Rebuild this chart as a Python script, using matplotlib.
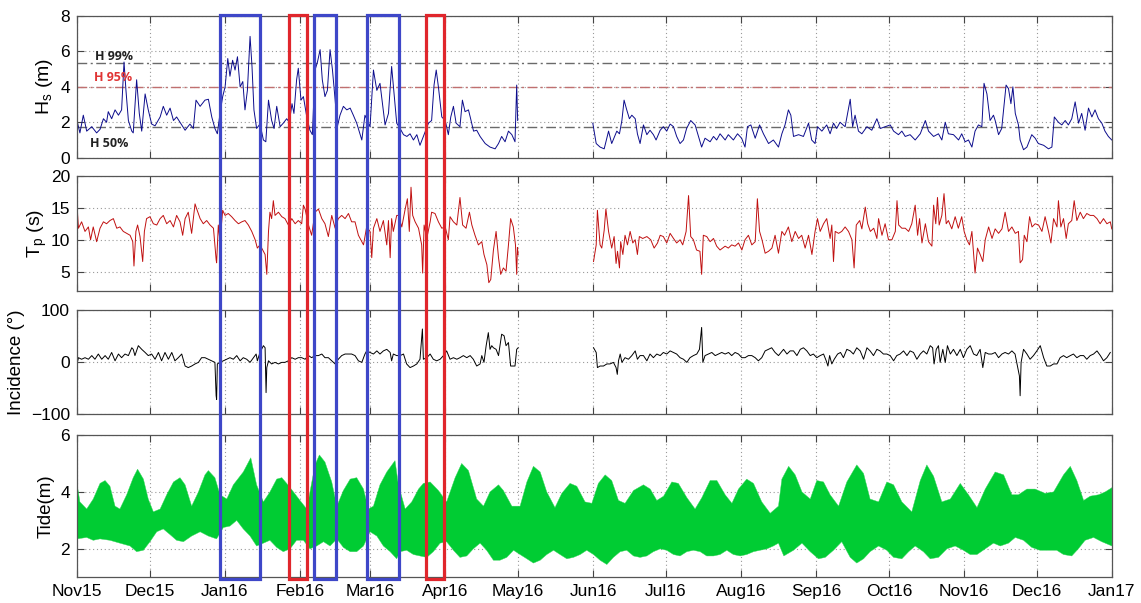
import numpy as np
import matplotlib
matplotlib.use("Agg")
import matplotlib.pyplot as plt
import matplotlib.dates as mdates
from matplotlib.patches import Rectangle
from matplotlib.transforms import blended_transform_factory

plt.rcParams['font.family'] = ['Liberation Sans', 'DejaVu Sans']
plt.rcParams['mathtext.fontset'] = 'custom'
plt.rcParams['mathtext.rm'] = 'Liberation Sans'

nan = np.nan
START = np.datetime64('2015-11-01T00:00')
END = np.datetime64('2017-01-01T00:00')

# ---------------- data (days since 2015-11-01) ----------------
HS_DAY = [0, 1.2, 2.6, 4.0, 6.1, 8.1, 9.5, 10.9, 12.2, 12.9, 14.3, 15.7, 17.1, 18.4, 19.4, 20.2, 21.2, 22.6, 23.2, 24.6,
          25.7, 26.7, 28.1, 29.4, 30.8, 32.2, 34.3, 35.6, 37.0, 38.4, 39.8, 41.1, 43.2, 44.6, 46.6, 48.0, 49.1, 50.8,
          52.8, 54.2, 55.6, 56.9, 57.9, 59.0, 60.1, 61.1, 62.2, 63.1, 64.2, 65.2, 66.2, 67.3, 68.4, 69.3, 70.3, 71.4,
          72.2, 73.0, 74.1, 75.5, 76.9, 77.9, 79.0, 80.3, 81.3, 82.4, 83.8, 85.1, 86.5, 87.6, 88.7, 89.5, 90.6, 91.3,
          92.4, 93.4, 94.8, 96.1, 97.1, 98.2, 99.2, 100.3, 101.2, 102.3, 103.3, 104.4, 105.4, 106.5, 107.4, 108.5,
          109.9, 111.3, 112.7, 114.0, 115.4, 117.5, 118.8, 120.9, 122.3, 123.7, 125.0, 127.1, 128.5, 129.8,
          130.8, 131.9, 133.3, 134.7, 136.1, 137.4, 138.8, 140.2, 141.5, 143.2, 145.0, 146.3, 147.3, 148.2, 149.1,
          150.5, 151.9, 153.2, 154.2, 155.3, 156.4, 158.0, 159.0, 160.1, 161.5, 162.4, 163.6, 164.9, 166.3, 168.4,
          170.4, 172.5, 173.9, 175.2, 176.6, 178.0, 179.4, 180.7, 181.4, 181.8, 197.0,
          212.8, 214.2, 215.8, 217.5, 219.3, 220.6, 222.7, 223.8, 224.8, 225.7, 226.8, 227.9, 228.9, 230.3, 231.2,
          232.3, 233.7, 235.1, 236.4, 237.8, 238.9, 240.6, 241.9, 243.3, 244.7, 246.1, 247.4, 248.8, 250.2, 251.5,
          253.2, 255.0, 256.4, 257.7, 259.1, 261.2, 262.6, 263.9, 265.3, 267.4, 268.7, 270.8, 272.5, 274.2, 275.6,
          276.6, 278.0, 279.8, 281.6, 283.2, 285.3, 287.3, 289.4, 290.8, 292.1, 293.5, 294.5, 295.6, 297.7, 299.7,
          301.8, 303.1, 304.5, 305.5, 307.3, 309.3, 310.7, 312.1, 313.4, 314.8, 316.9, 317.9, 319.0, 320.0, 321.0,
          322.4, 323.8, 325.9, 327.9, 330.0, 331.4, 333.4, 335.5, 336.9, 338.9, 340.3, 341.7, 343.7, 345.8, 347.9,
          350.0, 351.3, 353.4, 355.4, 356.8, 358.2, 359.5, 361.6, 363.7, 365.0, 366.4, 367.8, 369.2, 370.5, 371.9,
          373.3, 374.2, 375.4, 376.7, 378.1, 378.8, 380.2, 381.5, 383.3, 384.3, 385.3, 386.1, 387.1, 388.4, 389.1,
          390.5, 391.9, 393.9, 395.3, 396.6, 398.8, 400.8, 402.2, 403.2, 404.9, 406.3, 407.7, 409.0, 410.4, 411.8,
          413.2, 414.5, 415.9, 417.3, 418.7, 420.0, 421.4, 422.8, 424.1, 425.5, 426.9]
HS_VAL = [2.1, 1.4, 2.4, 1.5, 1.75, 1.4, 1.6, 2.2, 2.0, 2.6, 2.2, 2.7, 2.4, 2.7, 5.4, 3.8, 2.1, 1.5, 1.4, 4.4,
          2.5, 1.5, 3.6, 2.7, 1.9, 1.8, 2.3, 2.9, 2.4, 2.8, 2.1, 2.3, 1.85, 1.55, 1.9, 1.65, 3.25, 2.9,
          3.25, 3.3, 2.3, 1.65, 1.35, 2.5, 3.45, 4.0, 5.6, 4.6, 5.5, 4.95, 5.7, 4.0, 4.3, 2.7, 3.8, 6.85,
          5.15, 2.7, 1.65, 1.9, 1.0, 0.9, 3.25, 2.1, 1.65, 2.9, 1.75, 1.95, 2.2, 2.0, 3.05, 2.5, 4.4, 5.05,
          3.25, 3.45, 2.3, 1.55, 1.3, 4.95, 5.4, 6.1, 4.4, 3.45, 3.8, 6.1, 4.95, 3.25, 1.75, 2.4,
          2.9, 2.7, 2.8, 2.4, 1.95, 1.0, 2.4, 1.75, 4.95, 3.8, 4.2, 1.85, 2.5, 5.15,
          3.6, 1.95, 1.65, 1.3, 1.2, 1.35, 1.0, 1.3, 0.7, 1.3, 1.95, 2.1, 4.1, 4.95, 4.0,
          2.3, 2.1, 1.3, 2.3, 2.9, 1.95, 1.75, 3.25, 2.6, 2.7, 2.2, 1.5, 1.55, 1.2, 0.8,
          0.6, 0.5, 0.8, 1.2, 0.9, 1.5, 1.3, 0.9, 4.1, 2.1, nan,
          1.95, 0.8, 0.6, 0.5, 1.5, 0.8, 1.5, 1.35, 2.1, 3.25, 2.7, 2.2, 2.4, 2.2, 1.35,
          0.8, 1.85, 1.3, 1.55, 1.3, 1.0, 1.55, 1.75, 1.5, 1.9, 1.75, 1.2, 0.8, 1.0, 1.65,
          2.1, 1.85, 1.2, 0.6, 1.1, 0.9, 1.2, 1.0, 1.35, 1.0, 1.3, 1.0, 1.35, 1.1, 0.6,
          1.75, 1.85, 1.1, 1.85, 1.35, 0.8, 1.0, 0.6, 1.35, 1.85, 2.7, 2.4, 1.2, 1.3, 1.2,
          1.95, 1.0, 0.8, 1.75, 1.5, 1.85, 1.35, 1.95, 1.65, 2.0, 1.75, 2.5, 3.3, 1.75, 2.4,
          1.5, 1.35, 1.75, 1.55, 2.2, 1.65, 1.75, 1.85, 1.5, 1.3, 1.5, 1.2, 1.3, 1.0, 1.35,
          2.1, 1.5, 1.2, 1.35, 1.0, 2.0, 1.35, 1.3, 1.0, 1.35, 0.9, 1.0, 0.6, 1.5, 1.85,
          1.75, 4.2, 3.6, 2.1, 2.4, 2.1, 1.3, 1.65, 4.1, 3.9, 3.05, 4.0, 2.5, 1.85, 1.0,
          0.45, 0.6, 1.3, 1.1, 0.8, 0.7, 0.5, 0.6, 2.3, 2.0, 1.85, 2.1, 1.85, 2.2, 3.15,
          1.95, 2.5, 1.55, 2.8, 2.3, 2.7, 2.2, 1.95, 1.5, 1.2, 1.0]

TP_DAY = [0, 0.6, 1.9, 3.3, 4.7, 5.6, 6.7, 8.1, 9.5, 10.9, 12.2, 13.6, 15.0, 16.4, 17.7, 19.1, 20.5, 21.9, 23.0, 23.5,
          24.3, 25.0, 26.0, 27.1, 27.8, 28.7, 30.1, 31.5, 32.9, 34.3, 35.6, 37.0, 38.4, 39.8, 41.1, 42.5, 43.6, 44.6,
          45.9, 47.3, 48.7, 49.4, 50.8, 52.1, 53.5, 54.9, 56.3, 57.4, 57.6, 58.3, 59.0, 60.1, 61.1, 62.4, 63.8, 65.2,
          66.6, 68.0, 69.3, 70.7, 72.1, 73.5, 74.4, 75.5, 76.9, 77.6, 78.3, 79.0, 79.6, 80.3, 81.0, 81.7, 83.1, 84.5,
          85.8, 87.2, 88.6, 90.0, 91.3, 92.7, 93.4, 94.1, 95.5, 96.8, 98.2, 99.6, 101.0, 102.3, 103.7, 105.1, 106.5,
          107.8, 109.2, 110.6, 112.0, 113.3, 114.7, 116.1, 118.2, 119.5, 120.9, 121.6, 122.3, 123.7, 125.0, 126.4,
          127.8, 128.5, 129.2, 129.8, 130.5, 131.9,
          132.6, 134.0, 135.4, 136.3, 137.1, 137.8, 138.5, 139.5, 140.9, 142.2, 142.6, 143.2, 144.3, 145.7, 146.3,
          147.7, 149.1, 150.5, 151.9, 153.2, 153.9, 155.3, 156.7, 158.0, 159.1, 160.5, 161.9, 162.9, 164.2, 165.6,
          167.0, 167.9, 169.1, 169.9, 170.7, 171.8, 172.9, 173.9, 174.8, 175.9, 177.0, 178.0, 178.9, 180.0, 180.9,
          181.4, 181.7, 182.0, 197.0,
          213.1, 214.2, 214.7, 215.8, 216.5, 217.5, 218.2, 219.3, 220.6, 221.6, 222.4, 223.0, 223.8, 224.3, 225.2,
          226.1, 227.1, 228.2, 229.3, 230.3, 231.2, 232.0, 233.4, 235.1, 236.7, 238.1, 239.5, 240.6, 241.9, 243.3,
          244.7, 246.1, 247.4, 248.8, 249.9, 251.3, 252.3, 253.2, 254.3, 255.6, 257.0, 257.7, 258.4, 259.8, 261.2,
          262.6, 263.9, 265.3, 267.4, 268.7, 270.1, 271.5, 272.9, 274.3, 275.6, 277.0, 278.4, 279.8, 280.7, 281.6,
          282.6, 283.9, 285.3, 286.7, 288.0, 289.4,
          290.8, 291.9, 293.5, 294.9, 296.3, 297.7, 299.0, 300.4, 301.8, 303.2, 304.5, 305.5, 306.6, 308.0, 309.3,
          310.7, 311.4, 312.1, 312.8, 314.2, 315.5, 316.9, 318.3, 319.7, 320.6, 321.5, 322.9, 323.8, 325.2, 326.2,
          327.3, 328.7, 330.0, 330.7, 332.1, 333.4, 334.8, 336.2, 337.6, 338.3, 339.0, 340.3, 341.7, 343.1, 344.4,
          345.8, 346.8, 347.6, 348.6, 350.0, 351.3, 352.7, 353.4, 354.3, 355.0, 355.7, 356.8, 357.7, 358.6, 359.5,
          360.9, 362.3, 363.6, 365.0, 366.0, 367.1, 368.2, 369.2, 370.1, 370.5, 371.5, 372.6, 373.7, 374.7, 376.1,
          377.5, 378.8, 380.2, 381.6, 382.9, 384.3, 385.7, 387.1, 388.4, 389.1, 390.1, 390.8, 391.9, 393.0, 394.0,
          395.3, 396.7, 398.1, 399.4, 400.8, 401.8, 402.9, 404.3, 404.9, 405.9, 407.0, 408.1, 409.0, 410.4, 411.4,
          412.5, 413.9, 415.2, 416.6, 418.0, 419.4, 420.8, 422.1, 423.5, 424.9, 426.3, 426.9]
TP_VAL = [15.4, 11.8, 12.8, 11.3, 12.0, 10.0, 12.0, 9.7, 11.8, 12.8, 12.5, 13.0, 13.3, 11.8, 12.0, 11.3, 11.0, 10.7, 9.7, 5.9,
          11.3, 12.3, 10.5, 6.6, 11.3, 13.3, 13.6, 12.5, 12.3, 13.3, 13.8, 12.5, 13.0, 12.0, 13.8, 12.8, 10.7, 13.3,
          14.3, 11.0, 15.6, 14.8, 13.3, 12.5, 13.0, 12.3, 11.8, 6.9, 6.4, 12.3, 9.7, 14.6, 13.8, 14.1, 13.6, 13.0,
          12.5, 12.8, 13.0, 12.3, 11.3, 10.0, 8.7, 9.2, 8.2, 7.7, 4.6, 11.3, 14.3, 13.3, 16.1, 13.8, 14.3, 13.6,
          13.3, 12.3, 13.3, 12.5, 13.0, 12.5, 15.4, 14.8, 12.3, 10.7, 14.3, 14.8, 13.3, 12.5, 10.5, 13.8, 11.8,
          13.3, 13.8, 13.3, 14.1, 12.8, 12.8, 10.7, 9.2, 12.0, 11.3, 7.2, 11.8, 13.3, 11.3, 13.0,
          9.2, 13.0, 7.2, 13.3, 11.3, 13.8,
          13.8, 12.0, 14.8, 16.4, 11.3, 18.2, 13.8, 12.8, 11.8, 9.2, 4.8, 12.3, 10.2, 12.8, 14.3,
          14.1, 12.8, 11.8, 12.0, 10.0, 13.6, 12.8, 12.3, 16.6, 12.3, 11.8, 14.3, 12.3, 10.7, 9.2,
          9.7, 7.7, 6.1, 3.3, 3.8, 8.4, 11.3, 7.2, 4.6, 5.6, 5.1, 9.2, 13.3, 12.0, 9.2,
          4.6, 8.8, 7.7, nan,
          6.6, 9.2, 14.6, 9.2, 8.7, 11.5, 14.8, 11.3, 8.7, 10.5, 6.3, 8.2, 5.6, 9.7, 7.7,
          10.7, 9.2, 11.3, 9.5, 10.0, 7.7, 10.5, 10.2, 10.5, 10.0, 8.7, 9.5, 10.7, 10.5, 9.5,
          11.0, 10.2, 9.5, 10.0, 9.2, 11.3, 16.9, 10.5, 10.0, 8.4, 8.2, 4.6, 10.7, 10.5, 9.7,
          10.2, 9.0, 8.4, 9.0, 8.7, 9.2, 9.0, 9.5, 8.4, 10.0, 10.7, 9.2, 9.7, 16.4, 11.3,
          10.0, 7.9, 8.2, 8.7, 10.7, 7.9,
          11.3, 10.7, 12.0, 9.7, 11.3, 10.2, 10.7, 8.7, 10.7, 7.7, 11.3, 13.3, 11.3, 12.5, 13.3,
          10.2, 12.3, 6.6, 11.3, 11.0, 11.3, 12.0, 11.3, 10.0, 5.6, 12.3, 13.0, 11.7, 15.1, 12.5,
          11.3, 11.8, 10.2, 13.3, 10.7, 12.5, 10.0, 10.0, 11.3, 16.1, 12.3, 11.8, 11.8, 11.3, 12.5,
          15.4, 10.7, 13.3, 9.5, 12.5, 9.7, 9.0, 15.4, 12.5, 16.6, 12.3, 13.8, 17.2, 12.5, 13.0,
          11.7, 13.6, 11.8, 13.6, 11.3, 10.0, 9.2, 11.3, 6.9, 4.8, 8.7, 7.7, 6.6, 10.0, 12.0,
          10.2, 11.7, 11.0, 11.7, 14.3, 11.3, 12.0, 11.0, 11.3, 6.4, 6.9, 10.7, 9.7, 13.6, 12.0,
          12.5, 12.3, 11.3, 13.6, 11.3, 9.5, 13.3, 12.0, 16.1, 12.0, 13.3, 10.2, 12.5, 13.0, 16.1,
          13.0, 14.3, 13.3, 14.1, 13.8, 13.8, 13.3, 12.5, 13.3, 12.5, 12.8, 11.7]

INC_DAY = [0, 0.6, 1.9, 3.3, 4.7, 6.1, 7.4, 8.8, 10.2, 11.6, 12.9, 14.3, 15.7, 17.1, 18.4, 19.8, 21.2, 22.6, 23.2, 23.9,
           25.3, 26.7, 28.1, 29.4, 30.8, 32.2, 33.6, 34.9, 36.3, 37.7, 39.1, 40.4, 41.8, 43.2, 44.6, 45.9, 47.3, 48.7,
           50.1, 51.4, 52.8, 54.2, 55.6, 56.9, 57.4, 57.6, 57.9, 59.0, 60.4, 61.8, 63.1, 64.5, 65.9, 67.3, 68.6, 70.0,
           71.4, 72.8, 73.9, 74.4, 75.5, 76.9, 77.6, 78.0, 78.3, 79.0, 80.3, 81.7, 83.1, 84.5, 85.8, 87.2, 88.6, 90.0,
           91.3, 92.7, 94.1, 95.5, 96.8, 98.2, 99.6, 101.0, 102.3, 103.7, 105.1, 106.5, 107.8, 109.2, 110.6, 112.0,
           113.3, 114.7, 116.1, 117.5, 118.8, 119.5, 120.9, 122.3, 123.7, 125.0, 126.4, 127.8, 129.2, 129.8, 130.5,
           131.9, 133.3, 134.7, 136.0, 137.4, 138.8, 140.2, 141.5, 142.5, 142.9, 144.3, 145.7, 147.0, 148.4, 149.8,
           151.2, 152.5, 153.9, 155.3, 156.7, 158.0, 159.4, 160.8, 162.2, 163.5, 164.9, 166.3, 167.0, 167.9, 168.8,
           169.7, 170.4, 171.1, 171.8, 172.9, 173.9, 174.5, 175.2, 176.2, 177.0, 178.0, 178.9, 180.1, 180.7, 181.4,
           182.0, 197.0,
           213.1, 214.2, 214.7, 215.8, 217.2, 218.6, 219.9, 221.3, 222.4, 222.9, 223.4, 224.1, 224.8, 226.1, 227.5,
           228.9, 230.3, 231.2, 232.3, 233.7, 235.1, 236.4, 237.8, 239.2, 240.6, 241.9, 243.3, 244.7, 246.1, 247.4,
           248.8, 250.2, 251.6, 252.9, 254.3, 255.7, 256.8, 257.7, 258.2, 259.1, 260.5, 261.9, 263.3, 264.6, 266.0,
           267.4, 268.8, 270.1, 271.5, 272.9, 274.3, 275.6, 277.0, 278.4, 279.8, 281.1, 282.5, 283.9, 285.3, 286.6,
           288.0, 289.4, 291.5, 292.9, 294.2, 295.6, 297.0, 298.4, 299.7, 301.1, 302.5, 303.8, 305.2, 306.6, 308.0,
           309.1, 309.8, 310.5, 311.4, 312.4, 313.8, 315.0, 316.2, 317.6, 319.0, 320.3, 321.7, 323.1, 324.5, 325.9,
           327.2, 328.6, 330.0, 331.3, 332.7, 334.1, 335.5, 336.9, 338.2, 339.6, 341.0, 342.4, 343.7, 345.1, 346.5,
           347.9, 349.2, 350.6, 352.0, 353.0, 353.6, 354.5, 355.4, 356.1, 357.2, 358.2, 359.1, 360.3, 361.6, 363.0,
           364.4, 365.7, 367.1, 368.5, 369.9, 371.2, 372.6, 373.7, 374.7, 376.1, 377.4, 378.8, 380.2, 381.6, 382.9,
           384.3, 385.7, 387.0, 388.0, 388.8, 389.1, 389.5, 390.5, 391.9, 393.2, 394.6, 396.0, 397.4, 398.8, 400.1,
           401.5, 402.9, 404.3, 405.6, 407.0, 408.3, 409.8, 411.1, 412.5, 413.9, 415.3, 416.6, 418.0, 419.4, 420.8,
           422.2, 423.5, 424.9, 426.3]
INC_VAL = [-4, 8, 5, 8, 5, 12, 5, 15, 5, 12, 5, 18, 2, 15, 8, 15, 12, 27, 24, 12,
           31, 24, 18, 12, 15, 5, 18, 2, 18, 5, 18, 2, 8, 15, -8, -11, -8, -4,
           -1, 8, 8, 5, 2, -1, -65, -72, -4, -1, 2, 5, 8, 5, 12, 2, 8, 5,
           -1, 8, 15, 2, 18, 31, 27, -59, -11, 2, -4, -1, -4, -1, -1, 2, 8, 5,
           8, 8, 5, 12, 8, 12, 12, 15, 8, 8, 2, -4, 5, 12, 15, 15,
           15, 12, 2, -1, 15, 21, 18, 15, 21, 15, 21, 24, 18, 2, 15,
           12, 12, 15, -4, -11, -8, -4, 5, 63, 5, 8, 15, 5, 2, 5,
           12, 21, 5, 8, 5, 8, 12, 8, 12, 5, -8, -4, 12, -1, 31,
           56, 24, 31, 27, 24, 12, 31, 53, 50, 31, 37, -8, -8, -8, 24,
           27, nan,
           27, 18, -11, -8, -8, -4, -4, -1, -11, -24, 2, 15, -1, 8, 5,
           12, 21, 5, 12, 12, 2, 15, 8, 15, 12, 18, 15, 21, 18, 15,
           8, 5, -1, 8, 12, 15, 24, 66, -1, 12, 15, 18, 12, 15, 18,
           15, 18, 12, 18, 15, 8, 8, 12, 12, 8, 2, 8, 21, 24, 27,
           18, 12, 24, 15, 21, 21, 12, 24, 27, 21, 12, 15, 8, 12, 15,
           2, -8, 12, -4, 5, 15, 18, 8, 24, 21, 15, 27, 21, 5, 27,
           21, 12, 24, 21, 15, 15, 12, 2, 12, 15, 21, 12, 21, 18, 5,
           15, 21, 15, 31, 27, -4, 24, 31, -1, 24, -1, 31, 15, 24, 12,
           24, 8, 24, 31, 15, 12, 24, -11, 18, 15, 15, 18, 8, 15, 18,
           15, 21, 15, -8, -27, -65, -1, 24, 15, 5, 12, 21, 31, 8, -8,
           -8, -4, -4, 8, 12, 8, 12, 15, 8, 12, 12, 5, 12, 15, 21,
           12, 2, 8, 18]

TIDE_HI_DAY = [0, 1.2, 4.0, 6.7, 9.5, 11.6, 13.6, 15.7, 17.7, 20.5, 23.2, 25.0, 27.4, 29.4, 31.5, 34.3, 37.0, 39.8,
               42.5, 44.6, 47.3, 50.1, 52.8, 54.2, 56.9, 59.0, 61.8, 64.5, 68.6, 71.7, 74.1, 76.9, 79.6, 82.4, 84.5,
               86.5, 89.3, 92.0, 94.8, 98.2, 100.0, 102.3, 105.1, 107.2, 109.9, 112.7, 115.4, 118.2, 120.2, 122.3,
               125.0, 127.8, 131.2, 132.6, 135.4, 138.1, 140.9, 142.9, 145.7, 149.1, 152.5, 156.0, 158.7, 161.5,
               164.9, 167.7, 170.4, 173.9, 175.9, 179.4, 182.8, 185.6, 188.3, 191.1, 193.8, 197.2, 200.0, 203.4,
               206.2, 209.6, 212.4, 215.1, 217.9, 220.6, 223.4, 226.1, 229.6, 233.7, 236.5, 239.2, 242.0, 245.4,
               248.1, 251.6, 255.0, 257.8, 261.2, 264.0, 267.4, 270.2, 272.9, 276.3, 279.1, 282.5, 286.0, 289.4,
               290.8, 293.6, 296.3, 299.1, 302.5, 305.2, 308.0, 310.7, 314.2, 317.6, 321.7, 324.5, 327.2, 330.7,
               334.1, 336.9, 340.3, 344.4, 347.9, 350.6, 353.4, 356.8, 360.3, 364.4, 367.8, 371.3, 374.7, 378.8,
               382.3, 385.7, 388.4, 391.9, 395.3, 399.4, 402.9, 407.0, 409.8, 412.5, 415.3, 418.0, 421.5, 424.2, 427.0]
TIDE_HI = [4.3, 3.65, 3.4, 3.75, 4.3, 4.4, 4.2, 3.5, 3.4, 3.9, 4.5, 4.8, 4.45, 3.75, 3.3, 3.4, 3.9, 4.35,
           4.5, 4.25, 3.5, 4.0, 4.6, 4.75, 4.5, 3.9, 3.75, 4.25, 4.7, 5.2, 4.25, 3.65, 4.0, 4.45, 4.5,
           4.3, 4.0, 3.7, 3.4, 4.95, 5.3, 5.05, 4.35, 3.5, 4.05, 4.45, 4.5, 4.1, 3.4, 3.5,
           4.25, 4.7, 5.1, 4.25, 3.4, 3.65, 4.1, 4.3, 4.35, 4.05, 3.65, 4.5, 5.0, 4.75,
           3.75, 3.5, 4.0, 4.25, 4.05, 3.5, 3.5, 4.35, 4.9, 4.7, 4.0, 3.45, 3.95, 4.3,
           4.2, 3.65, 3.6, 4.3, 4.6, 4.4, 3.7, 3.6, 4.05, 4.25, 4.1, 3.7, 3.85, 4.35,
           4.3, 3.8, 3.4, 3.8, 4.4, 4.4, 3.9, 3.6, 4.1, 4.45, 4.3, 3.65, 3.25, 3.5,
           4.45, 4.9, 4.6, 4.0, 3.75, 4.4, 4.35, 3.9, 3.5, 4.35, 4.95, 4.65, 3.75, 3.65,
           4.35, 4.25, 3.65, 3.3, 4.4, 4.95, 4.55, 3.65, 3.75, 4.3, 3.9, 3.45, 4.1, 4.7,
           4.6, 3.9, 3.9, 4.1, 4.1, 3.95, 4.0, 4.6, 4.9, 4.4, 3.7, 3.85, 3.9, 4.0, 4.15]

TIDE_LO_DAY = [0, 4.0, 6.7, 9.5, 13.6, 17.7, 21.9, 24.6, 27.4, 30.1, 32.9, 35.6, 38.4, 41.1, 43.9, 47.3, 50.8, 54.2,
               57.6, 60.4, 63.1, 65.9, 68.6, 71.4, 74.1, 76.9, 79.6, 82.4, 85.1, 87.9, 90.6, 93.4, 96.1, 98.9, 101.7,
               104.4, 107.2, 109.9, 112.7, 115.4, 118.2, 120.9, 123.7, 126.4, 129.2, 131.9, 133.3, 136.0, 138.8,
               141.5, 144.3, 147.0, 149.8, 152.5, 155.3, 158.0, 160.8, 163.5, 166.3, 169.0, 171.8, 174.5, 177.3,
               180.1, 182.8, 185.6, 188.3, 191.1, 193.8, 196.6, 199.3, 202.1, 204.8, 207.6, 210.3, 213.1, 215.8,
               218.6, 221.3, 224.1, 226.8, 229.6, 232.3, 235.1, 237.8, 240.6, 243.3, 246.1, 248.8, 251.6, 254.3,
               257.1, 259.8, 262.6, 265.3, 268.1, 270.8, 273.6, 276.3, 279.1, 281.8, 284.6, 287.3, 289.4, 291.6,
               295.6, 299.1, 302.5, 305.9, 308.7, 312.1, 315.5, 319.0, 321.7, 324.5, 327.2, 330.7, 334.1, 336.9,
               340.3, 343.1, 345.8, 349.2, 352.0, 355.4, 358.9, 362.3, 365.7, 368.5, 371.3, 374.7, 378.1, 380.9,
               384.3, 387.1, 390.5, 393.9, 397.3, 400.8, 404.2, 407.0, 410.4, 413.1, 415.9, 419.4, 422.8, 427.0]
TIDE_LO = [2.35, 2.4, 2.3, 2.35, 2.3, 2.2, 2.1, 1.9, 1.95, 2.25, 2.6, 2.7, 2.5, 2.3, 2.25, 2.45, 2.6, 2.45,
           2.35, 2.75, 2.8, 3.0, 2.7, 2.45, 2.1, 2.2, 2.3, 2.05, 1.9, 2.0, 2.3, 2.3, 2.0, 2.1, 2.25,
           2.1, 2.35, 2.05, 1.9, 1.9, 2.1, 2.6, 2.45, 2.1, 1.9, 1.65, 1.9, 1.95, 1.8,
           1.75, 1.7, 1.9, 2.2, 2.25, 1.95, 1.7, 1.75, 2.0, 2.2, 1.95, 1.6, 1.6, 1.7,
           1.95, 1.8, 1.65, 1.5, 1.6, 1.8, 1.95, 1.8, 1.65, 1.7, 1.8, 1.95, 1.8, 1.6,
           1.45, 1.7, 1.9, 1.95, 1.75, 1.7, 1.75, 1.9, 2.0, 1.95, 1.8, 1.75, 1.9, 1.95,
           1.9, 1.75, 1.75, 1.8, 1.95, 1.8, 1.75, 1.8, 1.9, 1.95, 2.0, 2.1, 2.2, 1.75,
           1.95, 2.2, 1.9, 1.65, 1.7, 1.95, 2.25, 1.7, 1.5, 1.65, 1.9, 2.1, 1.95, 1.7,
           1.65, 1.9, 2.1, 1.9, 1.65, 1.7, 2.0, 2.1, 1.95, 1.8, 1.8, 2.0, 2.2, 2.1,
           2.2, 2.4, 2.3, 2.05, 1.95, 1.95, 1.95, 1.8, 1.75, 2.0, 2.3, 2.4, 2.25, 2.1]

# threshold levels of Hs
H_LEVELS = [5.33, 4.0, 1.72]
H_LABELS = ['H 99%', 'H 95%', 'H 50%']

# highlighted events: (start day, end day, kind)
BOX_START = [59.0, 87.4, 97.8, 119.6, 144.0]
BOX_END = [75.5, 94.8, 106.8, 132.9, 151.5]
BOX_KIND = ['blue', 'red', 'blue', 'blue', 'red']


def to_dates(days):
    d = np.asarray(days, dtype=float)
    return START + np.round(d * 1440).astype('timedelta64[m]')


# ---------------- figure ----------------
fig = plt.figure(figsize=(11.41, 6.03), dpi=100)
W, H = 1141, 603


def axes_px(left, top, right, bottom):
    return fig.add_axes([left / W, 1 - bottom / H, (right - left) / W, (bottom - top) / H])


ax1 = axes_px(77, 16, 1112, 157.7)
ax2 = axes_px(77, 175.7, 1112, 291)
ax3 = axes_px(77, 309.7, 1112, 414)
ax4 = axes_px(77, 435, 1112, 577.3)
axes = [ax1, ax2, ax3, ax4]

grid_kw = dict(color='#9a9a9a', linestyle=(0, (1, 2.5)), linewidth=0.8)

for ax in axes:
    ax.set_xlim(START, END)
    ax.xaxis.set_major_locator(mdates.MonthLocator())
    ax.xaxis.set_major_formatter(mdates.DateFormatter('%b%y'))
    ax.tick_params(direction='in', top=True, right=True, length=5, width=0.8,
                   labelsize=12.5, color='#444444', pad=5)
    ax.grid(True, **grid_kw)
    ax.set_axisbelow(True)
    for s in ax.spines.values():
        s.set_color('#555555')
        s.set_linewidth(0.9)
    if ax is not ax4:
        ax.tick_params(labelbottom=False)

# Hs
ax1.plot(to_dates(HS_DAY), HS_VAL, color='#0c0c8c', lw=0.7)
ax1.set_ylim(0, 8)
ax1.set_yticks([0, 2, 4, 6, 8])
dash = (0, (7, 2.5, 1.5, 2.5))
line_cols = ['#6a6a6a', '#c07070', '#6a6a6a']
text_cols = ['#222222', '#e03434', '#222222']
text_y = [5.72, 4.52, 0.8]
text_x = [0.017, 0.016, 0.013]
tr = blended_transform_factory(ax1.transAxes, ax1.transData)
for lev, lab, lc, tc, ty, tx in zip(H_LEVELS, H_LABELS, line_cols, text_cols, text_y, text_x):
    ax1.axhline(lev, color=lc, lw=1.0, linestyle=dash, zorder=1.5)
    ax1.text(tx, ty, lab, transform=tr, color=tc, fontsize=9, fontweight='bold',
             ha='left', va='center', family=['Open Sans', 'DejaVu Sans'])
ax1.set_ylabel(r'H$_\mathregular{s}$ (m)', fontsize=14)
ax1.yaxis.set_label_coords(-0.021, 0.5)

# Tp
ax2.plot(to_dates(TP_DAY), TP_VAL, color='#c01010', lw=0.7)
ax2.set_ylim(2, 20)
ax2.set_yticks([5, 10, 15, 20])
ax2.set_ylabel(r'T$_\mathregular{p}$ (s)', fontsize=14)
ax2.yaxis.set_label_coords(-0.027, 0.5)

# Incidence
ax3.plot(to_dates(INC_DAY), INC_VAL, color='black', lw=0.7)
ax3.set_ylim(-100, 100)
ax3.set_yticks([-100, 0, 100])
ax3.set_ylabel('Incidence (°)', fontsize=13.5)
ax3.yaxis.set_label_coords(-0.05, 0.5)

# Tide
poly_x = np.concatenate([mdates.date2num(to_dates(TIDE_HI_DAY)),
                         mdates.date2num(to_dates(TIDE_LO_DAY))[::-1]])
poly_y = np.concatenate([np.asarray(TIDE_HI), np.asarray(TIDE_LO)[::-1]])
ax4.fill(poly_x, poly_y, color='#00cc33', lw=0.3, ec='#33d65a', zorder=2)
ax4.set_ylim(1, 6)
ax4.set_yticks([2, 4, 6])
ax4.set_ylabel('Tide(m)', fontsize=13.5)
ax4.yaxis.set_label_coords(-0.022, 0.5)

# event boxes spanning all panels
box_colors = {'blue': '#3e47c8', 'red': '#e0262c'}
btr = blended_transform_factory(ax4.transData, fig.transFigure)
y0 = 1 - 579.3 / H
y1 = 1 - 15.0 / H
for s, e, k in zip(BOX_START, BOX_END, BOX_KIND):
    xs = mdates.date2num(to_dates([s, e]))
    r = Rectangle((xs[0], y0), xs[1] - xs[0], y1 - y0, transform=btr, fill=False,
                  ec=box_colors[k], lw=2.3, clip_on=False, zorder=5)
    fig.add_artist(r)

fig.savefig('out.png', dpi=100)
